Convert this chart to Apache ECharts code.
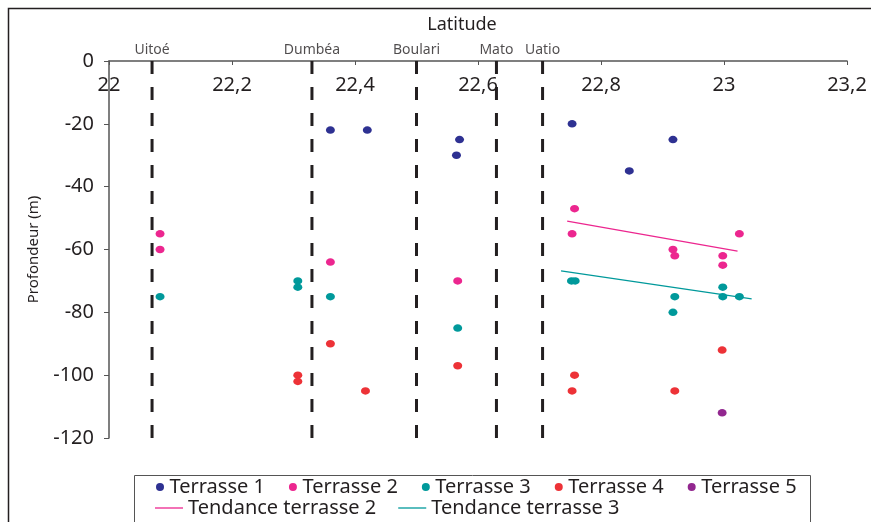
<!DOCTYPE html>
<html>
<head>
<meta charset="utf-8">
<script src="https://cdn.jsdelivr.net/npm/echarts@6/dist/echarts.min.js"></script>
<style>
html,body{margin:0;padding:0;background:#fff;}
#chart{width:871px;height:522px;}
</style>
</head>
<body>
<div id="chart"></div>
<script>
// ---- Data ----
const stationNames = ['Uitoé', 'Dumbéa', 'Boulari', 'Mato', 'Uatio'];
const stationLat = [22.07, 22.33, 22.5, 22.63, 22.705];
const stationDepthTop = 0;
const stationDepthBottom = -123;

const terrasse1Lat = [22.36, 22.42, 22.57, 22.565, 22.753, 22.917, 22.846];
const terrasse1Depth = [-22, -22, -25, -30, -20, -25, -35];

const terrasse2Lat = [22.083, 22.083, 22.36, 22.567, 22.757, 22.753, 22.917, 22.92, 22.998, 22.998, 23.025];
const terrasse2Depth = [-55, -60, -64, -70, -47, -55, -60, -62, -62, -65, -55];

const terrasse3Lat = [22.083, 22.307, 22.307, 22.36, 22.567, 22.752, 22.758, 22.92, 22.917, 22.998, 22.998, 23.025];
const terrasse3Depth = [-75, -70, -72, -75, -85, -70, -70, -75, -80, -72, -75, -75];

const terrasse4Lat = [22.36, 22.307, 22.307, 22.417, 22.567, 22.997, 22.757, 22.753, 22.92];
const terrasse4Depth = [-90, -100, -102, -105, -97, -92, -100, -105, -105];

const terrasse5Lat = [22.997];
const terrasse5Depth = [-112];

const trend2Lat = [22.745, 23.022];
const trend2Depth = [-51, -60.5];
const trend3Lat = [22.735, 23.045];
const trend3Depth = [-66.8, -75.7];

const scatterNames = ['Terrasse 1', 'Terrasse 2', 'Terrasse 3', 'Terrasse 4', 'Terrasse 5'];
const trendNames = ['Tendance terrasse 2', 'Tendance terrasse 3'];

// ---- Build ----
const zip = (a, b) => a.map((v, i) => [v, b[i]]);
const FONT = 'Noto Sans';
const TXT = '#231f20';
const colors = ['#2e3192', '#ec268f', '#00999b', '#ed3237', '#92278f'];

const scatterLat = [terrasse1Lat, terrasse2Lat, terrasse3Lat, terrasse4Lat, terrasse5Lat];
const scatterDepth = [terrasse1Depth, terrasse2Depth, terrasse3Depth, terrasse4Depth, terrasse5Depth];

const series = [];

// Station dashed lines
stationLat.forEach((lat, i) => {
  series.push({
    type: 'line',
    name: 'st' + i,
    data: [[lat, stationDepthTop], [lat, stationDepthBottom]],
    clip: false,
    symbol: 'none',
    silent: true,
    z: 1,
    lineStyle: { color: TXT, width: 3, type: [13, 13] }
  });
});
// Station labels
series.push({
  type: 'scatter',
  name: 'stations',
  data: stationLat.map((lat, i) => [lat, stationDepthTop, stationNames[i]]),
  symbolSize: 1,
  itemStyle: { color: 'rgba(0,0,0,0)' },
  silent: true,
  label: {
    show: true, position: 'top', distance: 3,
    formatter: p => p.value[2],
    fontFamily: FONT, fontSize: 14, color: TXT
  }
});

scatterNames.forEach((n, i) => {
  series.push({
    type: 'scatter',
    name: n,
    data: zip(scatterLat[i], scatterDepth[i]),
    symbol: 'circle',
    symbolSize: [9, 7.5],
    color: colors[i],
    itemStyle: { color: colors[i], opacity: 1 },
    z: 3
  });
});

series.push({
  type: 'line', name: trendNames[0], data: zip(trend2Lat, trend2Depth),
  symbol: 'none', color: colors[1], lineStyle: { color: colors[1], width: 1.3 }, z: 2
});
series.push({
  type: 'line', name: trendNames[1], data: zip(trend3Lat, trend3Depth),
  symbol: 'none', color: colors[2], lineStyle: { color: colors[2], width: 1.3 }, z: 2
});

const chart = echarts.init(document.getElementById('chart'), null, { renderer: 'canvas' });
chart.setOption({
  animation: false,
  backgroundColor: '#fff',
  textStyle: { fontFamily: FONT, color: TXT },
  grid: { left: 109, right: 24, top: 61, bottom: 84, containLabel: false },
  xAxis: {
    type: 'value', position: 'top',
    min: 22, max: 23.2, interval: 0.2,
    name: 'Latitude', nameLocation: 'middle', nameGap: 27,
    nameTextStyle: { fontFamily: FONT, fontSize: 18, color: TXT, padding: [0, 32, 0, 0] },
    axisLine: { show: true, lineStyle: { color: '#555', width: 1.5 } },
    axisTick: { show: true, inside: true, length: 4, lineStyle: { color: '#555' } },
    axisLabel: {
      inside: true, margin: 14, fontFamily: FONT, fontSize: 20, color: TXT,
      formatter: v => String(Math.round(v * 10) / 10).replace('.', ',')
    },
    splitLine: { show: false }
  },
  yAxis: {
    type: 'value', min: -120, max: 0, interval: 20,
    name: 'Profondeur (m)', nameLocation: 'middle', nameGap: 68, nameRotate: 90,
    nameTextStyle: { fontFamily: FONT, fontSize: 15, color: TXT },
    axisLine: { show: true, lineStyle: { color: '#555', width: 1.5 } },
    axisTick: { show: true, length: 5, lineStyle: { color: '#555' } },
    axisLabel: { margin: 15, fontFamily: FONT, fontSize: 20, color: TXT },
    splitLine: { show: false }
  },
  legend: [
    {
      data: scatterNames,
      left: 156, top: 477, padding: 0,
      itemWidth: 9, itemHeight: 8, itemGap: 24,
      textStyle: { fontFamily: FONT, fontSize: 20, color: TXT, lineHeight: 20 }
    },
    {
      data: trendNames.map(n => ({ name: n, icon: 'rect' })),
      left: 155, top: 498, padding: 0,
      itemWidth: 28, itemHeight: 1.3, itemGap: 22,
      textStyle: { fontFamily: FONT, fontSize: 20, color: TXT, lineHeight: 20 }
    }
  ],
  graphic: [
    { type: 'rect', silent: true, z: -1,
      shape: { x: 8.5, y: 8.5, width: 900, height: 600 },
      style: { fill: 'none', stroke: TXT, lineWidth: 1.5 } },
    { type: 'rect', silent: true, z: -1,
      shape: { x: 134.5, y: 475.5, width: 676, height: 80 },
      style: { fill: 'none', stroke: '#555', lineWidth: 1 } }
  ],
  series: series
});
</script>
</body>
</html>
